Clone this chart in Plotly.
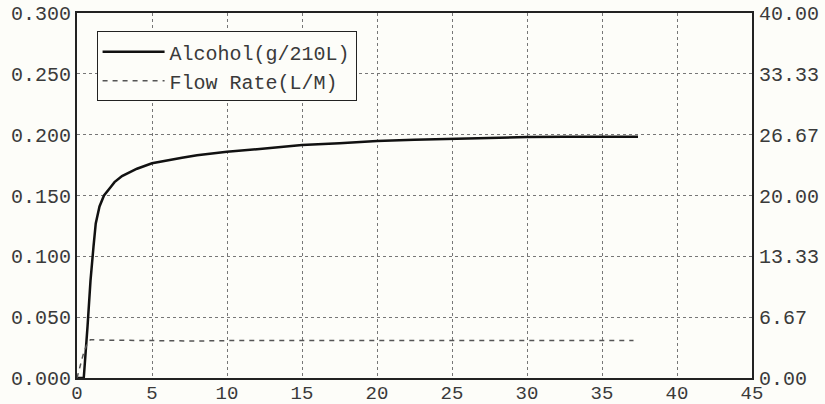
import plotly.graph_objects as go

# Data
alc_time = [0, 0.45, 0.7, 0.9, 1.1, 1.25, 1.5, 1.8, 2.25, 2.5, 3, 4, 5, 6, 7, 8,
            10, 12, 15, 17.5, 20, 22.5, 25, 27.5, 30, 32.5, 35, 37.4]
alcohol = [0, 0, 0.042, 0.080, 0.108, 0.127, 0.141, 0.150, 0.157, 0.161, 0.166,
           0.172, 0.1765, 0.179, 0.181, 0.183, 0.186, 0.188, 0.1915, 0.193,
           0.1948, 0.1958, 0.1967, 0.1974, 0.198, 0.1982, 0.1983, 0.1983]

flow_time = [0, 0.1, 0.4, 0.7, 0.9, 2, 4, 6, 8, 10, 12, 15, 20, 25, 30, 35, 37.1]
flow_rate = [0, 0.6, 2.5, 3.9, 4.2, 4.15, 4.1, 4.1, 4.05, 4.1, 4.1, 4.15, 4.15,
             4.1, 4.15, 4.1, 4.1]

x_ticks = [0, 5, 10, 15, 20, 25, 30, 35, 40, 45]
left_ticks = [0.0, 0.05, 0.10, 0.15, 0.20, 0.25, 0.30]
right_ticks = [0, 6.6667, 13.3333, 20, 26.6667, 33.3333, 40]
right_labels = ["0.00", "6.67", "13.33", "20.00", "26.67", "33.33", "40.00"]

FONT = "Liberation Mono, Courier New, monospace"
GRID = "#777777"
TXT = "#3a3a3a"

fig = go.Figure()
fig.add_trace(go.Scatter(x=alc_time, y=alcohol, mode="lines", name="Alcohol(g/210L)",
                         line=dict(color="#111111", width=2.5), yaxis="y"))
fig.add_trace(go.Scatter(x=flow_time, y=flow_rate, mode="lines", name="Flow Rate(L/M)",
                         line=dict(color="#555555", width=1.5, dash="5px,5px"), yaxis="y2"))

fig.update_layout(
    width=825, height=404,
    margin=dict(l=77, r=73, t=13, b=26),
    paper_bgcolor="#fdfdf9", plot_bgcolor="#fdfdf9",
    font=dict(family=FONT, size=20, color=TXT),
    showlegend=True,
    legend=dict(x=0.029, y=0.95, xanchor="left", yanchor="top",
                bordercolor="#222222", borderwidth=1, bgcolor="#fdfdf9",
                font=dict(family=FONT, size=20, color=TXT),
                itemwidth=62, tracegroupgap=0),
    xaxis=dict(range=[0, 45], tickvals=x_ticks, showgrid=True, gridcolor=GRID,
               griddash="dot", gridwidth=1, zeroline=False, automargin=False,
               showline=True, linecolor="#222222", linewidth=1.5, mirror=True,
               ticks="", ticklabeloverflow="allow", ticklabelstandoff=-4,
               tickfont=dict(family=FONT, size=19, color=TXT)),
    yaxis=dict(range=[0, 0.3], tickvals=left_ticks, tickformat=".3f",
               showgrid=True, gridcolor=GRID, griddash="dot", gridwidth=1,
               zeroline=False, showline=True, linecolor="#222222", linewidth=2,
               mirror=True, ticks="", automargin=False, ticklabeloverflow="allow",
               tickfont=dict(family=FONT, size=20, color=TXT)),
    yaxis2=dict(range=[0, 40], tickvals=right_ticks, ticktext=right_labels,
                overlaying="y", side="right", showgrid=False, zeroline=False,
                showline=False, ticks="", automargin=False, ticklabelstandoff=6,
                ticklabeloverflow="allow",
                tickfont=dict(family=FONT, size=20, color=TXT)),
)

fig.write_html("out.html", config={"displayModeBar": False},
               post_script="document.body.style.margin='0px';")
